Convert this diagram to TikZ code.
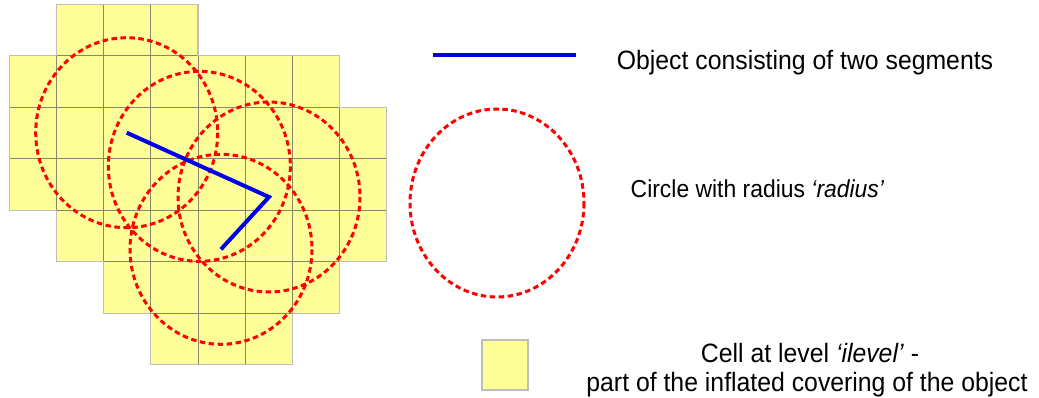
\documentclass[tikz,border=0pt]{standalone}
\usepackage{fontspec}
\setmainfont{Liberation Sans}
\usepackage{graphicx}
\usetikzlibrary{calc}
\definecolor{cellfill}{RGB}{255,255,153}
\definecolor{cellline}{RGB}{135,135,105}
\definecolor{celledge}{RGB}{190,190,190}
\definecolor{objblue}{RGB}{0,0,235}
\definecolor{circred}{RGB}{255,0,0}
\newcommand{\lbl}[2][24.8]{\scalebox{1}[1.07]{\fontsize{#1}{29}\selectfont #2}}
\begin{document}
\begin{tikzpicture}[x=1pt,y=-1pt,
  cell/.style={fill=cellfill,draw=cellline,line width=0.8pt},
  cellborder/.style={draw=celledge,line width=1.3pt,line join=miter},
  obj/.style={draw=objblue,line width=4pt,line join=miter},
  circ/.style={draw=circred,line width=3pt,dash pattern=on 5.5pt off 3.5pt},
  txt/.style={anchor=base,inner sep=0pt,text=black}]
\useasboundingbox (0,0) rectangle (1039,398);
\def\gx{9.3}\def\gy{4.3}\def\cw{47.17}\def\ch{51.5}
% grid cells: row / first col / last col
\foreach \r/\a/\b in {0/1/3,1/0/6,2/0/7,3/0/7,4/1/7,5/2/6,6/3/5}{
  \foreach \c in {\a,...,\b}{
    \draw[cell] ({\gx+\c*\cw},{\gy+\r*\ch}) rectangle ({\gx+(\c+1)*\cw},{\gy+(\r+1)*\ch});
  }
}
\draw[cellborder] ({\gx+1*\cw},{\gy+0*\ch}) -- ({\gx+4*\cw},{\gy+0*\ch}) -- ({\gx+4*\cw},{\gy+1*\ch})
  -- ({\gx+7*\cw},{\gy+1*\ch}) -- ({\gx+7*\cw},{\gy+2*\ch}) -- ({\gx+8*\cw},{\gy+2*\ch})
  -- ({\gx+8*\cw},{\gy+5*\ch}) -- ({\gx+7*\cw},{\gy+5*\ch}) -- ({\gx+7*\cw},{\gy+6*\ch})
  -- ({\gx+6*\cw},{\gy+6*\ch}) -- ({\gx+6*\cw},{\gy+7*\ch}) -- ({\gx+3*\cw},{\gy+7*\ch})
  -- ({\gx+3*\cw},{\gy+6*\ch}) -- ({\gx+2*\cw},{\gy+6*\ch}) -- ({\gx+2*\cw},{\gy+5*\ch})
  -- ({\gx+1*\cw},{\gy+5*\ch}) -- ({\gx+1*\cw},{\gy+4*\ch}) -- ({\gx+0*\cw},{\gy+4*\ch})
  -- ({\gx+0*\cw},{\gy+1*\ch}) -- ({\gx+1*\cw},{\gy+1*\ch}) -- cycle;
% object points
\coordinate (A) at (126.7,132.7);
\coordinate (B) at (269,197);
\coordinate (C) at (221,249.3);
\coordinate (M) at ($(A)!0.5!(B)+(1.5,1.5)$);
% circles
\foreach \p in {A,M,B,C}{
  \draw[circ] (\p) ellipse [x radius=91,y radius=95];
}
% object
\draw[obj] (A) -- (B) -- (C);
% legend
\coordinate (L1) at (433,55);
\coordinate (L2) at (576,55);
\draw[obj] (L1) -- (L2);
\node[txt] (t1) at (805,70) {\lbl{Object consisting of two segments}};
\coordinate (LC) at (497,203);
\draw[circ] (LC) ellipse [x radius=87,y radius=94];
\node[txt] (t2) at (757.5,197.5) {\lbl[22.9]{Circle with radius \textit{‘radius’}}};
\node[cellborder,fill=cellfill,minimum width=46pt,minimum height=50pt,inner sep=0pt] (sq) at (505,365) {};
\node[txt] (t3) at (810,362) {\lbl{Cell at level \textit{‘ilevel’} -}};
\node[txt] (t4) at (807,391) {\lbl{part of the inflated covering of the object}};
\end{tikzpicture}
\end{document}
